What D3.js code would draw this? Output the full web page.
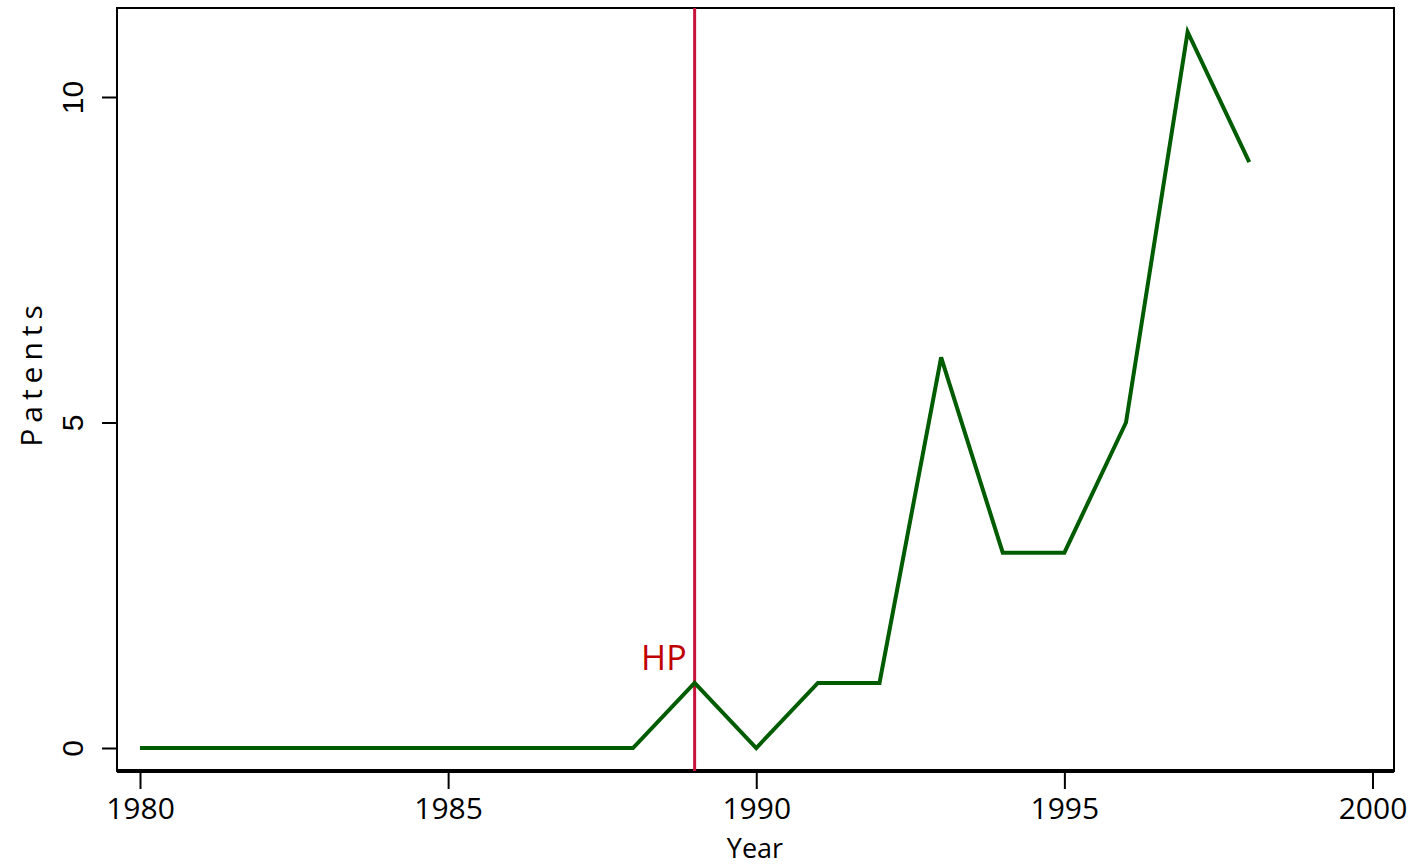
<!DOCTYPE html>
<html>
<head>
<meta charset="utf-8">
<script src="https://cdn.jsdelivr.net/npm/d3@7"></script>
<style>
  body { margin: 0; background: #fff; }
  svg { display: block; font-family: "Open Sans", "Noto Sans", sans-serif; }
</style>
</head>
<body>
<div id="chart"></div>
<script>
// data
const years = [1980, 1981, 1982, 1983, 1984, 1985, 1986, 1987, 1988, 1989,
               1990, 1991, 1992, 1993, 1994, 1995, 1996, 1997, 1998];
const patents = [0, 0, 0, 0, 0, 0, 0, 0, 0, 1,
                 0, 1, 1, 6, 3, 3, 5, 11, 9];
const xTicks = [1980, 1985, 1990, 1995, 2000];
const yTicks = [0, 5, 10];
const markerYear = 1989;
const markerLabel = "HP";

const W = 1416, H = 867;
const box = { left: 117, top: 8, right: 1394, bottom: 771 };

const svg = d3.select("#chart").append("svg")
  .attr("width", W).attr("height", H);

// scales
const x = d3.scaleLinear().domain([1980, 2000]).range([140, 1372.5]);
const y = d3.scaleLinear().domain([0, 10]).range([748, 97]);

// plot frame
svg.append("rect")
  .attr("x", box.left).attr("y", box.top)
  .attr("width", box.right - box.left).attr("height", box.bottom - box.top)
  .attr("fill", "none").attr("stroke", "#000").attr("stroke-width", 2);
svg.append("line")
  .attr("x1", box.left).attr("x2", box.right)
  .attr("y1", box.bottom).attr("y2", box.bottom)
  .attr("stroke", "#000").attr("stroke-width", 4);

// x axis
const xAxisG = svg.append("g")
  .attr("transform", `translate(0,${box.bottom + 1})`)
  .call(d3.axisBottom(x).tickValues(xTicks).tickFormat(d3.format("d"))
    .tickSize(17).tickPadding(9));
xAxisG.select(".domain").remove();
xAxisG.selectAll(".tick line").attr("stroke", "#000").attr("stroke-width", 2);
xAxisG.selectAll(".tick text").attr("font-size", 30).attr("fill", "#000")
  .attr("font-family", "Open Sans, sans-serif");

svg.append("text")
  .attr("x", 755).attr("y", 858)
  .attr("text-anchor", "middle")
  .attr("font-size", 27)
  .text("Year");

// y axis
const yAxisG = svg.append("g")
  .attr("transform", `translate(${box.left},0)`)
  .call(d3.axisLeft(y).tickValues(yTicks).tickSize(15).tickPadding(0).tickFormat(d3.format("d")));
yAxisG.select(".domain").remove();
yAxisG.selectAll(".tick line").attr("stroke", "#000").attr("stroke-width", 2);
yAxisG.selectAll(".tick text")
  .attr("font-size", 30).attr("fill", "#000")
  .attr("text-anchor", "middle")
  .attr("x", null)
  .attr("transform", "translate(-45,0) rotate(-90)")
  .attr("dy", "0.35em");

svg.append("text")
  .attr("transform", "translate(42,373) rotate(-90)")
  .attr("text-anchor", "middle")
  .attr("font-size", 30)
  .attr("letter-spacing", 6)
  .text("Patents");

// marker line
svg.append("line")
  .attr("x1", x(markerYear)).attr("x2", x(markerYear))
  .attr("y1", box.top).attr("y2", box.bottom)
  .attr("stroke", "#c8143c").attr("stroke-width", 3);
svg.append("text")
  .attr("x", x(markerYear) - 8).attr("y", 670)
  .attr("text-anchor", "end")
  .attr("fill", "#c00000")
  .attr("font-size", 34)
  .text(markerLabel);

// series
const line = d3.line().x((d, i) => x(years[i])).y(d => y(d));
svg.append("path")
  .datum(patents)
  .attr("d", line)
  .attr("fill", "none")
  .attr("stroke", "#005c00")
  .attr("stroke-width", 4)
  .attr("stroke-linejoin", "miter");
</script>
</body>
</html>
